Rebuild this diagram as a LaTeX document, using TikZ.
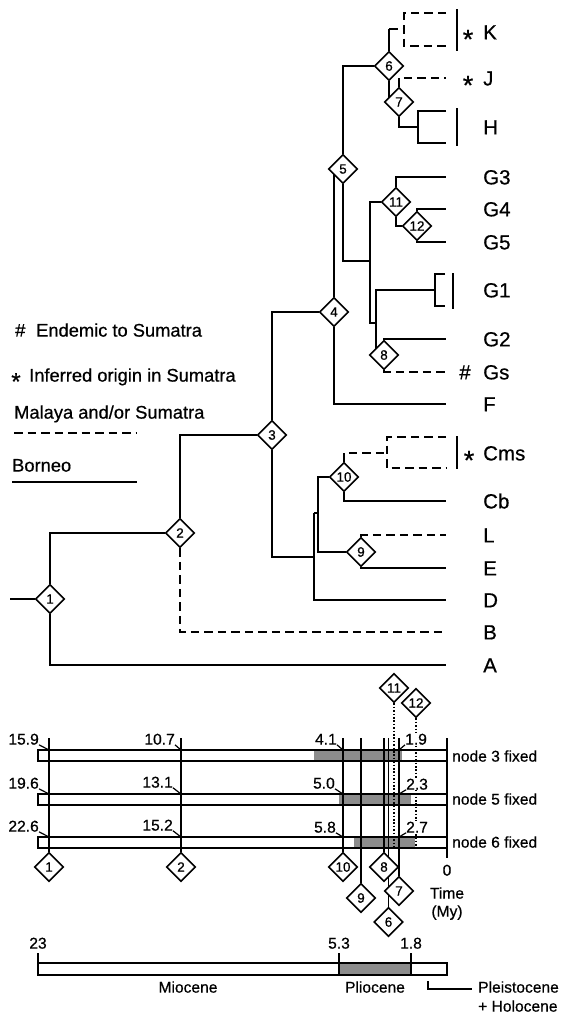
\documentclass[tikz,border=0pt]{standalone}
\usepackage{fontspec}
\setmainfont{Liberation Sans}[FakeBold=0.6]
\usetikzlibrary{shapes.geometric}
\pgfdeclarelayer{back}
\pgfdeclarelayer{mid}
\pgfsetlayers{back,mid,main}
\definecolor{shadegray}{gray}{0.55}
\tikzset{
  ln/.style={line width=1.7pt, line cap=butt},
  dsh/.style={ln, dash pattern=on 8.5pt off 5pt},
  dotln/.style={line width=1.8pt, dash pattern=on 1.6pt off 1.8pt},
  lead/.style={line width=1.2pt},
  dia/.style={diamond, draw, line width=1.6pt, fill=white, minimum width=29pt, minimum height=29pt, inner sep=0pt, font=\fontsize{13.5}{13.5}\selectfont},
  leaf/.style={anchor=west, inner sep=0pt, font=\fontsize{20.5}{20.5}\selectfont, text height=14.8pt, text depth=0pt},
  star/.style={inner sep=0pt, font=\fontsize{27}{27}\selectfont, text height=31pt, text depth=0pt},
  leg/.style={anchor=west, inner sep=0pt, font=\fontsize{18.3}{18.3}\selectfont, text height=13.2pt, text depth=0pt},
  tl/.style={inner sep=0pt, font=\fontsize{15.6}{15.6}\selectfont, text height=11.2pt, text depth=0pt}
}
\begin{document}
\begin{tikzpicture}[x=1pt,y=-1pt]
\useasboundingbox (0,0) rectangle (561,1015);

% ---------- tree nodes ----------
\node[dia] (n1) at (50,599) {1};
\node[dia] (n2) at (180,533) {2};
\node[dia] (n3) at (272,435) {3};
\node[dia] (n4) at (334,312) {4};
\node[dia] (n5) at (343,169) {5};
\node[dia] (n6) at (389,66) {6};
\node[dia] (n7) at (399,102) {7};
\node[dia] (n8) at (384,355) {8};
\node[dia] (n9) at (361,552) {9};
\node[dia] (n10) at (344,477) {10};
\node[dia] (n11) at (396,202) {11};
\node[dia] (n12) at (417,226) {12};

% tip and corner coordinates
\coordinate (root) at (10,599);
\coordinate (tK1) at (446,13);
\coordinate (tK2) at (446,46);
\coordinate (cK) at (389,29);
\coordinate (cKb) at (404,29);
\coordinate (bK1) at (457,9);
\coordinate (bK2) at (457,51);
\coordinate (tJ) at (446,78);
\coordinate (cH) at (418,127);
\coordinate (tH1) at (446,111);
\coordinate (tH2) at (446,143);
\coordinate (bH1) at (457,108);
\coordinate (bH2) at (457,146);
\coordinate (tG3) at (446,177);
\coordinate (tG4) at (446,209);
\coordinate (tG5) at (446,242);
\coordinate (cG) at (370,261);
\coordinate (cG8) at (370,323);
\coordinate (cG8b) at (376,323);
\coordinate (cG1) at (376,290);
\coordinate (cG1b) at (435,290);
\coordinate (tG1a) at (445,274);
\coordinate (tG1b) at (445,306);
\coordinate (bG1a) at (453,273);
\coordinate (bG1b) at (453,309);
\coordinate (tG2) at (446,339);
\coordinate (tGs) at (446,372);
\coordinate (tF) at (446,404);
\coordinate (cC) at (387,453);
\coordinate (tC1) at (446,437);
\coordinate (tC2) at (446,468);
\coordinate (bC1) at (457,436);
\coordinate (bC2) at (457,469);
\coordinate (tCb) at (446,501);
\coordinate (tL) at (446,535);
\coordinate (tE) at (446,568);
\coordinate (cX) at (318,513);
\coordinate (cDa) at (314,513);
\coordinate (cDb) at (314,557);
\coordinate (tD) at (446,600);
\coordinate (tB) at (446,632);
\coordinate (tA) at (446,665);

\begin{pgfonlayer}{mid}
\draw[ln] (n1.west) -- (root);
\draw[ln] (n1.north) |- (n2.west);
\draw[ln] (n1.south) |- (tA);
\draw[ln] (n2.north) |- (n3.west);
\draw[dsh] (n2.south) |- (tB);
\draw[ln] (n3.north) |- (n4.west);
\draw[ln] (n3.south) |- (cDb);
\draw[ln] (cDa) |- (tD);
\draw[ln] (cDa) -- (cX);
\draw[ln] (n10.west) -| (cX) |- (n9.west);
\draw[dsh] (n10.north) |- (cC);
\draw[dsh] (tC1) -| (cC) |- (tC2);
\draw[ln] (bC1) -- (bC2);
\draw[ln] (n10.south) |- (tCb);
\draw[dsh] (n9.north) |- (tL);
\draw[ln] (n9.south) |- (tE);
\draw[ln] (n4.north) -- (n4.north |- n5.center);
\draw[ln] (n4.south) |- (tF);
\draw[ln] (n5.north) |- (n6.west);
\draw[ln] (n5.south) |- (cG);
\draw[ln] (n11.west) -| (cG8) -- (cG8b);
\draw[ln] (cG1b) -- (cG1) -- (cG1 |- n8.center);
\draw[ln] (tG1a) -| (cG1b) |- (tG1b);
\draw[ln] (bG1a) -- (bG1b);
\draw[ln] (n8.north) |- (tG2);
\draw[dsh] (n8.south) |- (tGs);
\draw[ln] (n11.north) |- (tG3);
\draw[ln] (n11.south) |- (n12.west);
\draw[ln] (n12.north) |- (tG4);
\draw[ln] (n12.south) |- (tG5);
\draw[ln] (n6.north) -- (cK);
\draw[dsh] (cK) -- (cKb);
\draw[dsh] (tK1) -| (cKb) |- (tK2);
\draw[ln] (bK1) -- (bK2);
\draw[ln] (n6.south) -- (n6.south |- n7.center);
\draw[dsh] (n7.north) |- (tJ);
\draw[ln] (n7.south) |- (cH);
\draw[ln] (tH1) -| (cH) |- (tH2);
\draw[ln] (bH1) -- (bH2);
\end{pgfonlayer}

% leaf labels
\node[leaf] (lK) at (483,32) {K};
\node[leaf] (lJ) at (483,78) {J};
\node[leaf] (lH) at (483,127) {H};
\node[leaf] (lG3) at (483,177) {G3};
\node[leaf] (lG4) at (483,209) {G4};
\node[leaf] (lG5) at (483,242) {G5};
\node[leaf] (lG1) at (483,290) {G1};
\node[leaf] (lG2) at (483,339) {G2};
\node[leaf] (lGs) at (483,372) {Gs};
\node[leaf] (lF) at (483,404) {F};
\node[leaf] (lCms) at (483,453) {Cms};
\node[leaf] (lCb) at (483,501) {Cb};
\node[leaf] (lL) at (483,535) {L};
\node[leaf] (lE) at (483,568) {E};
\node[leaf] (lD) at (483,600) {D};
\node[leaf] (lB) at (483,632) {B};
\node[leaf] (lA) at (483,665) {A};
\node[star] (sK) at (468,33) {*};
\node[star] (sJ) at (468,79) {*};
\node[star] (sC) at (469,454) {*};
\node[leaf, anchor=center] (hGs) at (465,372) {\#};

% legend
\node[leg] (h1) at (15,330) {\#};
\node[leg] (lg1) at (36,330) {Endemic to Sumatra};
\node[star, font=\fontsize{24}{24}\selectfont, text height=27.5pt] (s1) at (16,376) {*};
\node[leg] (lg2) at (29,375) {Inferred origin in Sumatra};
\node[leg] (lg3) at (14,412) {Malaya and/or Sumatra};
\coordinate (d1) at (14,433);
\coordinate (d2) at (137,433);
\draw[dsh] (d1) -- (d2);
\node[leg] (lg4) at (12,465) {Borneo};
\coordinate (e1) at (12,482);
\coordinate (e2) at (137,482);
\draw[ln] (e1) -- (e2);

% ---------- time bars ----------
\begin{pgfonlayer}{back}
\fill[shadegray] (314.3,750) rectangle (402,761);
\fill[shadegray] (339.4,794) rectangle (410.5,805);
\fill[shadegray] (353.7,837) rectangle (415.3,848);
\draw[ln] (38,750) rectangle (447,761);
\draw[ln] (38,794) rectangle (447,805);
\draw[ln] (38,837) rectangle (447,848);
\end{pgfonlayer}

\node[dia] (m1) at (49,867) {1};
\node[dia] (m2) at (181,867) {2};
\node[dia] (m10) at (343,867) {10};
\node[dia] (m8) at (384,867) {8};
\node[dia] (m9) at (361,898) {9};
\node[dia] (m7) at (399,891) {7};
\node[dia] (m6) at (388.5,922) {6};
\node[dia] (m11) at (394,688) {11};
\node[dia] (m12) at (416,703) {12};

\coordinate (v1) at (49,738);
\coordinate (v2) at (181,738);
\coordinate (v10) at (343,738);
\coordinate (v9) at (361,738);
\coordinate (v8) at (384,738);
\coordinate (v6) at (388.5,738);
\coordinate (v7) at (399,738);
\coordinate (v0) at (447,738);
\coordinate (v0b) at (447,858);
\coordinate (d11) at (394,848);
\coordinate (d12) at (416,848);

\begin{pgfonlayer}{mid}
\draw[ln] (v1) -- (m1);
\draw[ln] (v2) -- (m2);
\draw[ln] (v10) -- (m10);
\draw[ln] (v9) -- (m9);
\draw[ln] (v8) -- (m8);
\draw[ln] (v6) -- (m6);
\draw[ln] (v7) -- (m7);
\draw[ln] (v0) -- (v0b);
\draw[dotln] (m11) -- (d11);
\draw[dotln] (m12) -- (d12);
\end{pgfonlayer}

% value labels with leaders
\coordinate (p11) at (49,750);
\coordinate (p12) at (181,750);
\coordinate (p13) at (343,750);
\coordinate (p14) at (399,750);
\coordinate (p21) at (49,794);
\coordinate (p22) at (181,794);
\coordinate (p23) at (343,794);
\coordinate (p24) at (399,794);
\coordinate (p31) at (49,837);
\coordinate (p32) at (181,837);
\coordinate (p33) at (343,837);
\coordinate (p34) at (399,837);

\node[tl, anchor=east] (a11) at (39,739) {15.9};
\node[tl, anchor=east] (a12) at (175,739) {10.7};
\node[tl, anchor=east] (a13) at (337,739) {4.1};
\node[tl, anchor=west, fill=white] (a14) at (405,739) {1.9};
\node[tl, anchor=east] (a21) at (39,783) {19.6};
\node[tl, anchor=east] (a22) at (173,782) {13.1};
\node[tl, anchor=east] (a23) at (335,783) {5.0};
\node[tl, anchor=west, fill=white] (a24) at (406,784) {2.3};
\node[tl, anchor=east] (a31) at (39,826) {22.6};
\node[tl, anchor=east] (a32) at (173,825) {15.2};
\node[tl, anchor=east] (a33) at (336,827) {5.8};
\node[tl, anchor=west, fill=white] (a34) at (406,827) {2.7};

\draw[lead] (a11.south east) -- (p11);
\draw[lead] (a12.south east) -- (p12);
\draw[lead] (a13.south east) -- (p13);
\draw[lead] (a14.south west) -- (p14);
\draw[lead] (a21.south east) -- (p21);
\draw[lead] (a22.south east) -- (p22);
\draw[lead] (a23.south east) -- (p23);
\draw[lead] (a24.south west) -- (p24);
\draw[lead] (a31.south east) -- (p31);
\draw[lead] (a32.south east) -- (p32);
\draw[lead] (a33.south east) -- (p33);
\draw[lead] (a34.south west) -- (p34);

\node[tl, anchor=west] (f3) at (452,756) {node 3 fixed};
\node[tl, anchor=west] (f5) at (452,799) {node 5 fixed};
\node[tl, anchor=west] (f6) at (452,842) {node 6 fixed};
\node[tl] (zero) at (447,870) {0};
\node[tl] (time) at (447,893) {Time};
\node[tl] (my) at (447,911) {(My)};

% ---------- epoch bar ----------
\begin{pgfonlayer}{back}
\fill[shadegray] (339,963) rectangle (411,975);
\draw[ln] (38,963) rectangle (447,975);
\end{pgfonlayer}
\coordinate (k1a) at (38,953);
\coordinate (k1b) at (38,975);
\coordinate (k2a) at (339,953);
\coordinate (k2b) at (339,975);
\coordinate (k3a) at (411,953);
\coordinate (k3b) at (411,975);
\draw[ln] (k1a) -- (k1b);
\draw[ln] (k2a) -- (k2b);
\draw[ln] (k3a) -- (k3b);
\node[tl] (e23) at (38,943) {23};
\node[tl] (e53) at (339,943) {5.3};
\node[tl] (e18) at (411,943) {1.8};
\node[tl] (mio) at (188,987) {Miocene};
\node[tl] (pli) at (375,987) {Pliocene};
\coordinate (br1) at (428,981);
\coordinate (br2) at (472,989);
\draw[lead] (br1) |- (br2);
\node[tl, anchor=west] (ple) at (478,987) {Pleistocene};
\node[tl, anchor=west] (hol) at (478,1006) {+ Holocene};
\end{tikzpicture}
\end{document}
